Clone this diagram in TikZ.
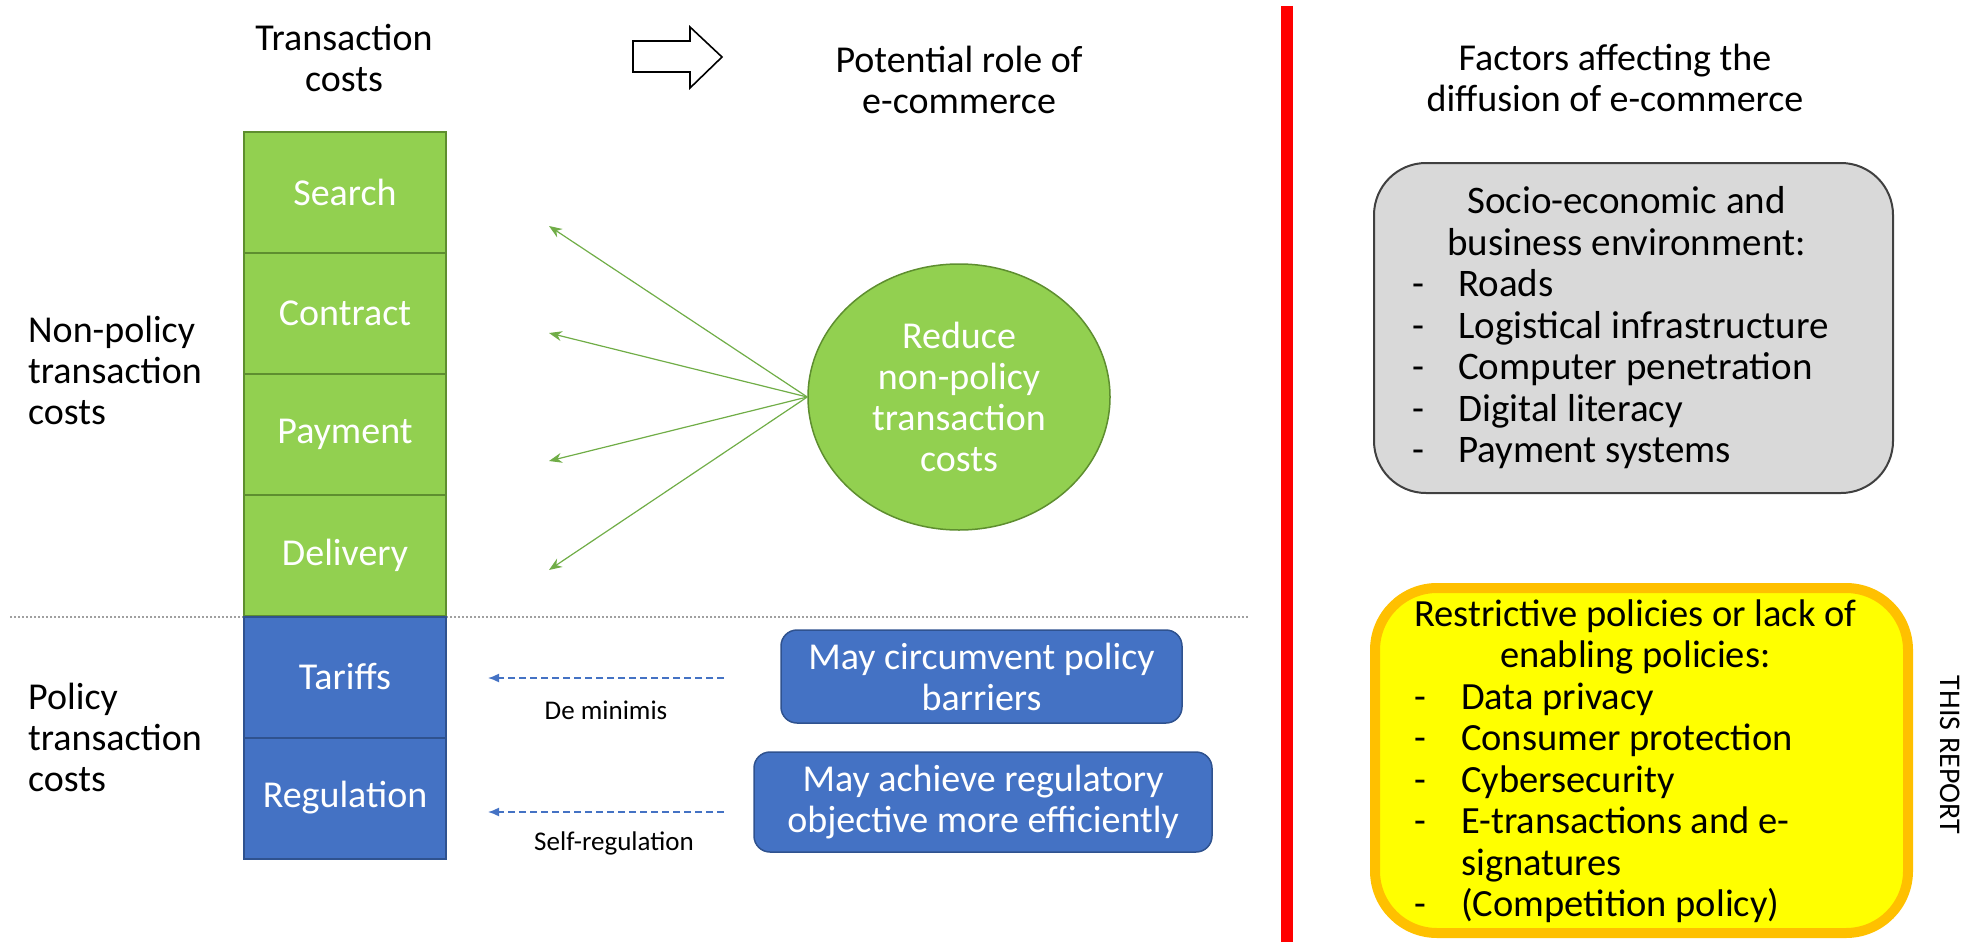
\documentclass[tikz,border=0pt]{standalone}
\usepackage{fontspec}
\setmainfont{Carlito}
\usetikzlibrary{arrows.meta,shapes.geometric}

\definecolor{leafgreen}{HTML}{92D050}
\definecolor{leafedge}{HTML}{5E8E2F}
\definecolor{arrowgreen}{HTML}{70AD47}
\definecolor{steelblue}{HTML}{4472C4}
\definecolor{steeledge}{HTML}{2F528F}
\definecolor{panelgrey}{HTML}{D9D9D9}
\definecolor{paneledge}{HTML}{404040}
\definecolor{amber}{HTML}{FFC000}
\definecolor{brightyellow}{HTML}{FFFF00}
\definecolor{sepgrey}{HTML}{A0A0A0}

\begin{document}
\begin{tikzpicture}[x=1pt,y=-1pt,
  bigtext/.style={font=\fontsize{38}{41}\selectfont},
  paneltext/.style={font=\fontsize{39}{41.5}\selectfont},
  yellowtext/.style={font=\fontsize{38.5}{41.5}\selectfont},
  smalltext/.style={font=\fontsize{27}{32}\selectfont},
  heading/.style={bigtext, align=center, inner sep=0pt},
  sidelabel/.style={bigtext, align=left, anchor=west, inner sep=0pt},
  costbox/.style={rectangle, minimum width=202pt, minimum height=121pt,
    inner sep=0pt, line width=2pt, bigtext, text=white},
  nonpolicy/.style={costbox, fill=leafgreen, draw=leafedge},
  policy/.style={costbox, fill=steelblue, draw=steeledge},
  rolebox/.style={rectangle, rounded corners=16pt, fill=steelblue,
    draw=steeledge, line width=1.5pt, bigtext, text=white, align=center,
    inner sep=0pt},
  greenarrow/.style={draw=arrowgreen, line width=1.2pt,
    -{Stealth[length=13pt,width=10pt]}},
  bluedash/.style={draw=steelblue, line width=1.5pt,
    dash pattern=on 7pt off 4pt, -{Latex[length=11pt,width=9pt]}},
  listtext/.style={anchor=west, inner sep=0pt},
]
\useasboundingbox (0,0) rectangle (1970,942);

% column headings
\node[heading] (tchead) at (344,58) {Transaction\\costs};
\node[heading] (prhead) at (959,80) {Potential role of\\e-commerce};
\node[heading] (fahead) at (1615,78) {Factors affecting the\\diffusion of e-commerce};

% hollow block arrow between the first two headings
\draw[line width=1.6pt, fill=white, line join=miter]
  (633,41) -- (690,41) -- (690,27) -- (722,57) -- (690,88) -- (690,72)
  -- (633,72) -- cycle;

% separator between non-policy and policy costs
\coordinate (sepL) at (10,617);
\coordinate (sepR) at (1248,617);
\draw[sepgrey, line width=1.5pt, dash pattern=on 2pt off 2pt] (sepL) -- (sepR);

% stacked transaction costs
\node[nonpolicy] (search)   at (345,192.5) {Search};
\node[nonpolicy] (contract) at (345,313.5) {Contract};
\node[nonpolicy] (payment)  at (345,434.5) {Payment};
\node[nonpolicy] (delivery) at (345,555.5) {Delivery};
\node[policy]    (tariffs)  at (345,677)   {Tariffs};
\node[policy]    (regul)    at (345,798)   {Regulation};

% row labels
\node[sidelabel] (nplabel) at (28,370) {Non-policy\\transaction\\costs};
\node[sidelabel] (plabel)  at (28,737) {Policy\\transaction\\costs};

% role of e-commerce for non-policy costs
\node[ellipse, minimum width=302pt, minimum height=266pt, inner sep=0pt,
  fill=leafgreen, draw=leafedge, line width=1.5pt, bigtext, text=white,
  align=center] (reduce) at (959,397)
  {Reduce\\non-policy\\transaction\\costs};

\coordinate (tipSearch)   at (549,226);
\coordinate (tipContract) at (549,333);
\coordinate (tipPayment)  at (549,461);
\coordinate (tipDelivery) at (549,570);
\draw[greenarrow] (reduce.west) -- (tipSearch);
\draw[greenarrow] (reduce.west) -- (tipContract);
\draw[greenarrow] (reduce.west) -- (tipPayment);
\draw[greenarrow] (reduce.west) -- (tipDelivery);

% role of e-commerce for policy costs
\node[rolebox, minimum width=401pt, minimum height=93pt] (circumvent)
  at (981.5,676.5) {May circumvent policy\\barriers};
\node[rolebox, minimum width=458pt, minimum height=100pt] (achieve)
  at (983,802) {May achieve regulatory\\objective more efficiently};

\coordinate (dmStart) at (724,678);
\coordinate (dmEnd)   at (488,678);
\coordinate (srStart) at (724,812);
\coordinate (srEnd)   at (488,812);
\draw[bluedash] (dmStart) -- (dmEnd);
\draw[bluedash] (srStart) -- (srEnd);
\node[smalltext] (deminimis) at (606,710) {De minimis};
\node[smalltext] (selfreg)   at (614,843) {Self-regulation};

% dividing bar
\coordinate (barTop) at (1287,6);
\coordinate (barBot) at (1287,942);
\draw[red, line width=12pt] (barTop) -- (barBot);

% socio-economic factors
\node[rectangle, rounded corners=52pt, fill=panelgrey, draw=paneledge,
  line width=2pt, minimum width=519pt, minimum height=330pt]
  (sebox) at (1633.5,328) {};
\node[listtext, paneltext] (selist) at (1412,330) {%
  \begin{tabular}{@{}p{46pt}@{}l@{}}
  \multicolumn{2}{@{}c@{}}{\hspace*{12pt}Socio-economic and}\\
  \multicolumn{2}{@{}c@{}}{\hspace*{12pt}business environment:}\\
  - & Roads\\
  - & Logistical infrastructure\\
  - & Computer penetration\\
  - & Digital literacy\\
  - & Payment systems
  \end{tabular}};

% policy factors
\node[rectangle, rounded corners=62pt, fill=brightyellow, draw=amber,
  line width=10pt, minimum width=533pt, minimum height=345pt]
  (polbox) at (1641.5,760.5) {};
\node[listtext, yellowtext] (pollist) at (1414,763) {%
  \begin{tabular}{@{}p{47pt}@{}l@{}}
  \multicolumn{2}{@{}c@{}}{Restrictive policies or lack of}\\
  \multicolumn{2}{@{}c@{}}{enabling policies:}\\
  - & Data privacy\\
  - & Consumer protection\\
  - & Cybersecurity\\
  - & E-transactions and e-\\
    & signatures\\
  - & (Competition policy)
  \end{tabular}};

\node[rotate=-90, font=\fontsize{30}{34}\selectfont] (thisreport)
  at (1950,755) {THIS REPORT};
\end{tikzpicture}
\end{document}
